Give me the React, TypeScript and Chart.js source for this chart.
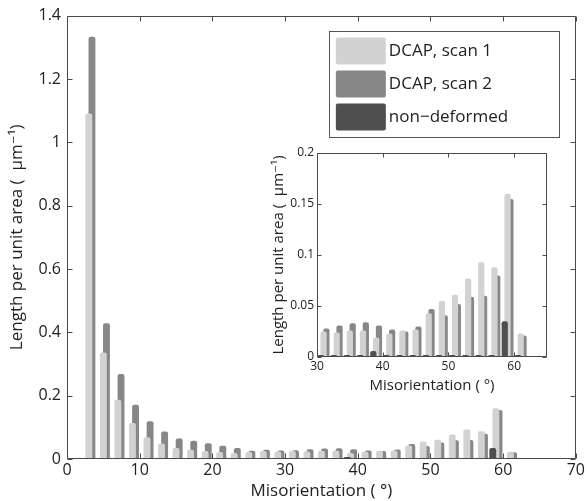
import React, { useEffect, useRef } from "react";
import { Chart, registerables } from "chart.js";

Chart.register(...registerables);

// ---- data ----
const bins = [3, 5, 7, 9, 11, 13, 15, 17, 19, 21, 23, 25, 27, 29, 31, 33, 35, 37, 39, 41, 43, 45, 47, 49, 51, 53, 55, 57, 59, 61, 63, 65];
const scan1 = [1.091, 0.336, 0.187, 0.114, 0.069, 0.049, 0.035, 0.029, 0.025, 0.022, 0.019, 0.022, 0.025, 0.024, 0.025, 0.024, 0.026, 0.026, 0.019, 0.023, 0.026, 0.027, 0.043, 0.055, 0.061, 0.077, 0.093, 0.088, 0.16, 0.023, 0.001, 0.001];
const scan2 = [1.333, 0.429, 0.268, 0.171, 0.119, 0.087, 0.065, 0.058, 0.05, 0.042, 0.035, 0.026, 0.029, 0.027, 0.028, 0.031, 0.033, 0.034, 0.031, 0.027, 0.025, 0.03, 0.047, 0.041, 0.052, 0.059, 0.06, 0.08, 0.155, 0.021, 0.001, 0.001];
const nonDeformed = [0.003, 0.003, 0.003, 0.003, 0.003, 0.003, 0.003, 0.003, 0.003, 0.003, 0.003, 0.003, 0.003, 0.003, 0.002, 0.002, 0.002, 0.002, 0.006, 0.002, 0.002, 0.002, 0.002, 0.002, 0.002, 0.002, 0.002, 0.002, 0.035, 0.002, 0.001, 0.001];

const seriesLabels = ["non\u2212deformed", "DCAP, scan 1", "DCAP, scan 2"];
const seriesColors = ["#4f4f4f", "#d2d2d2", "#878787"];
const legendOrder = [1, 2, 0];

const mainXTicks = [0, 10, 20, 30, 40, 50, 60, 70];
const mainYTicks = [0, 0.2, 0.4, 0.6, 0.8, 1, 1.2, 1.4];
const insetXTicks = [30, 40, 50, 60];
const insetYTicks = [0, 0.05, 0.1, 0.15, 0.2];

const xTitle = "Misorientation ( \u00b0)";
const yTitle = "Length per unit area (  \u03bcm\u207b\u00b9)";

const FONT = '"Open Sans", "DejaVu Sans", sans-serif';

function makeDatasets() {
  const values = [nonDeformed, scan1, scan2];
  return values.map((vals, i) => ({
    label: seriesLabels[i],
    data: bins.map((b, j) => ({ x: b, y: vals[j] })),
    backgroundColor: seriesColors[i],
    borderWidth: 0,
    borderRadius: 2,
    categoryPercentage: 0.645,
    barPercentage: 2.2,
  }));
}

function framePlugin(len: number) {
  return {
    id: "frame",
    afterDatasetsDraw(chart: any) {
      const { ctx, chartArea } = chart;
      const { left, right, top, bottom } = chartArea;
      const xs = chart.scales.x;
      const ys = chart.scales.y;
      ctx.save();
      ctx.strokeStyle = "#4a4a4a";
      ctx.lineWidth = 1;
      const L = Math.round(left) + 0.5;
      const R = Math.round(right) - 0.5;
      const T = Math.round(top) + 0.5;
      const B = Math.round(bottom) - 0.5;
      ctx.beginPath();
      ctx.rect(L, T, R - L, B - T);
      xs.ticks.forEach((t: any) => {
        const px = Math.round(xs.getPixelForValue(t.value)) + 0.5;
        ctx.moveTo(px, B);
        ctx.lineTo(px, B - len);
        ctx.moveTo(px, T);
        ctx.lineTo(px, T + len);
      });
      ys.ticks.forEach((t: any) => {
        const py = Math.round(ys.getPixelForValue(t.value)) + 0.5;
        ctx.moveTo(L, py);
        ctx.lineTo(L + len, py);
        ctx.moveTo(R, py);
        ctx.lineTo(R - len, py);
      });
      ctx.stroke();
      ctx.restore();
    },
  };
}

const legendPlugin = {
  id: "boxLegend",
  afterDraw(chart: any) {
    const { ctx, chartArea } = chart;
    const ds = chart.data.datasets;
    const boxW = 230;
    const boxH = 106;
    const rowH = 33;
    const right = chartArea.right - 17;
    const top = chartArea.top + 15;
    const left = right - boxW;
    ctx.save();
    ctx.fillStyle = "#ffffff";
    ctx.fillRect(left, top, boxW, boxH);
    ctx.strokeStyle = "#555";
    ctx.lineWidth = 1;
    ctx.strokeRect(Math.round(left) + 0.5, Math.round(top) + 0.5, boxW, boxH);
    legendOrder.forEach((di, i) => {
      const cy = top + 20 + i * rowH;
      ctx.fillStyle = ds[di].backgroundColor;
      ctx.beginPath();
      if ((ctx as any).roundRect) (ctx as any).roundRect(left + 7, cy - 13, 50, 27, 2);
      else ctx.rect(left + 7, cy - 13, 50, 27);
      ctx.fill();
      ctx.fillStyle = "#222";
      ctx.font = `17px ${FONT}`;
      ctx.textBaseline = "middle";
      ctx.textAlign = "left";
      ctx.fillText(ds[di].label, left + 60, cy + 1);
    });
    ctx.restore();
  },
};

function setTicks(arr: number[]) {
  return (scale: any) => {
    scale.ticks = arr.map((v) => ({ value: v }));
  };
}

export default function App() {
  const mainRef = useRef<HTMLCanvasElement>(null);
  const insetRef = useRef<HTMLCanvasElement>(null);

  useEffect(() => {
    const main = new Chart(mainRef.current!, {
      type: "bar",
      data: { datasets: makeDatasets() as any },
      options: {
        animation: false,
        responsive: true,
        maintainAspectRatio: false,
        layout: { padding: { left: 0, right: 9, top: 15, bottom: 0 } },
        plugins: { legend: { display: false }, tooltip: { enabled: false } },
        scales: {
          x: {
            type: "linear",
            offset: false,
            min: 0,
            max: 70,
            afterBuildTicks: setTicks(mainXTicks),
            afterFit: (s: any) => {
              s.height = 42;
            },
            grid: { display: false, drawTicks: false, offset: false },
            border: { display: false },
            ticks: {
              font: { family: FONT, size: 16 },
              color: "#222",
              padding: 2,
              maxRotation: 0,
              autoSkip: false,
              callback: (v: any) => String(v),
            },
            title: {
              display: true,
              text: xTitle,
              font: { family: FONT, size: 17 },
              color: "#222",
              padding: { top: 0, bottom: 0 },
            },
          },
          y: {
            type: "linear",
            min: 0,
            max: 1.4,
            afterBuildTicks: setTicks(mainYTicks),
            afterFit: (s: any) => {
              s.width = 67;
            },
            grid: { display: false, drawTicks: false },
            border: { display: false },
            ticks: {
              font: { family: FONT, size: 16 },
              color: "#222",
              padding: 6,
              autoSkip: false,
              callback: (v: any) => String(v),
            },
            title: {
              display: true,
              text: yTitle,
              font: { family: FONT, size: 17 },
              color: "#222",
              padding: { top: 7, bottom: 0 },
            },
          },
        },
      } as any,
      plugins: [framePlugin(5), legendPlugin],
    });

    const inset = new Chart(insetRef.current!, {
      type: "bar",
      data: { datasets: makeDatasets() as any },
      options: {
        animation: false,
        responsive: true,
        maintainAspectRatio: false,
        layout: { padding: { left: 0, right: 8, top: 13, bottom: 0 } },
        plugins: { legend: { display: false }, tooltip: { enabled: false } },
        scales: {
          x: {
            type: "linear",
            offset: false,
            min: 30,
            max: 65,
            afterBuildTicks: setTicks(insetXTicks),
            afterFit: (s: any) => {
              s.height = 38;
            },
            grid: { display: false, drawTicks: false, offset: false },
            border: { display: false },
            ticks: {
              font: { family: FONT, size: 12 },
              color: "#222",
              padding: 2,
              maxRotation: 0,
              autoSkip: false,
              callback: (v: any) => String(v),
            },
            title: {
              display: true,
              text: xTitle,
              font: { family: FONT, size: 15 },
              color: "#222",
              padding: { top: 0, bottom: 0 },
            },
          },
          y: {
            type: "linear",
            min: 0,
            max: 0.2,
            afterBuildTicks: setTicks(insetYTicks),
            afterFit: (s: any) => {
              s.width = 49;
            },
            grid: { display: false, drawTicks: false },
            border: { display: false },
            ticks: {
              font: { family: FONT, size: 12 },
              color: "#222",
              padding: 3,
              autoSkip: false,
              callback: (v: any) => String(v),
            },
            title: {
              display: true,
              text: yTitle,
              font: { family: FONT, size: 15 },
              color: "#222",
              padding: { top: 2, bottom: 0 },
            },
          },
        },
      } as any,
      plugins: [framePlugin(4)],
    });

    return () => {
      main.destroy();
      inset.destroy();
    };
  }, []);

  return (
    <div style={{ position: "absolute", left: 0, top: 0, width: 587, height: 501, background: "#fff" }}>
      <div style={{ position: "absolute", left: 0, top: 0, width: 587, height: 501 }}>
        <canvas ref={mainRef} />
      </div>
      <div style={{ position: "absolute", left: 268, top: 140, width: 287, height: 255, background: "#fff" }}>
        <canvas ref={insetRef} />
      </div>
    </div>
  );
}
